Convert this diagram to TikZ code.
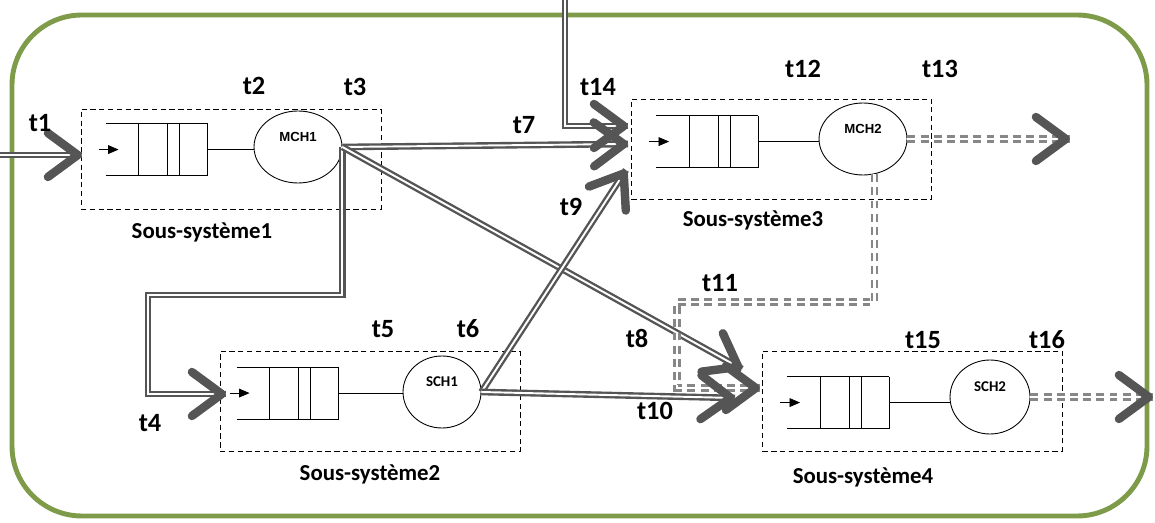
\documentclass[tikz,border=0pt]{standalone}
\usepackage{fontspec}
\setmainfont{Carlito}
\newfontfamily\arialfont{Liberation Sans}
\usetikzlibrary{positioning, calc, arrows.meta, shapes.geometric}
\definecolor{framegreen}{RGB}{125,155,72}
\definecolor{linkgray}{RGB}{85,85,85}
\definecolor{headgray}{RGB}{85,85,85}
\definecolor{dashgray}{RGB}{135,135,135}

\begin{document}
\begin{tikzpicture}[x=0.02cm, y=-0.02cm,
    sysbox/.style={draw, dash pattern=on 3pt off 2pt, line width=0.5pt, minimum width=6cm, minimum height=2cm, inner sep=0pt},
    server/.style={draw, ellipse, line width=0.5pt, inner sep=0pt, text height=5pt, text depth=11pt},
    queue/.style={line width=0.55pt},
    tlabel/.style={font=\bfseries\fontsize{15}{15}\selectfont},
    syslabel/.style={font=\bfseries\fontsize{13}{13}\selectfont},
    mtext/.style={font=\arialfont\bfseries\fontsize{7.5}{8}\selectfont},
    stext/.style={font=\bfseries\fontsize{8.5}{9}\selectfont},
    link/.style={draw=linkgray, line width=1.35pt, double=white, double distance=1.1pt},
    dlink/.style={draw=dashgray, line width=1.6pt, double=white, double distance=1.2pt, dash pattern=on 4.5pt off 3pt},
    head/.style={draw=headgray, line width=0.01pt, -{Straight Barb[length=17pt, width=25pt, line width=4.8pt, round]}}]

    \useasboundingbox (0,0) rectangle (1155,523);

    % --- Outer frame ---
    \draw[framegreen, line width=2.8pt, rounded corners=1.4cm] (12,15) rectangle (1147,516);

    % --- Sub-systems ---
    \node[sysbox] (sys1) at (231,159) {};
    \node[sysbox] (sys3) at (781.5,149) {};
    \node[sysbox] (sys2) at (370,401.5) {};
    \node[sysbox] (sys4) at (912.5,401) {};

    % --- Queues ---
    \foreach \s/\qx/\qy in {sys1/25/15, sys3/25/17, sys2/17/16, sys4/25/26} {
        \begin{scope}[shift={(\s.north west)}]
            \draw[queue] (\qx+102,\qy) -- (\qx,\qy) (\qx,\qy+52) -- (\qx+102,\qy+52) -- (\qx+102,\qy);
            \foreach \v in {33,62,74}
                \draw[queue] (\qx+\v,\qy) -- (\qx+\v,\qy+52);
            \draw[-{Triangle[length=6pt,width=5pt]}] (\qx-7,\qy+26) -- (\qx+13,\qy+26);
            \coordinate (\s-q) at (\qx+102,\qy+26);
        \end{scope}
    }

    % --- Servers ---
    \node[server, mtext, minimum width=1.76cm, minimum height=1.44cm] (mch1) at (298,147) {MCH1};
    \node[server, mtext, minimum width=1.76cm, minimum height=1.44cm] (mch2) at (863,139) {MCH2};
    \node[server, stext, minimum width=1.56cm, minimum height=1.44cm] (sch1) at (442,392) {SCH1};
    \node[server, stext, minimum width=1.6cm, minimum height=1.48cm] (sch2) at (990,397) {SCH2};

    \draw[queue] (sys1-q) -- (sys1-q -| mch1.west);
    \draw[queue] (sys3-q) -- (sys3-q -| mch2.west);
    \draw[queue] (sys2-q) -- (sys2-q -| sch1.west);
    \draw[queue] (sys4-q) -- (sys4-q -| sch2.west);

    % --- Arrow ends ---
    \coordinate (src1) at (0,155);
    \coordinate (in1) at (82,155);
    \coordinate (k4) at (148,295);
    \coordinate (in2) at (226,394);
    \coordinate (top14) at (565,0);
    \coordinate (in3a) at (628,126);
    \coordinate (in3b) at (628,144);
    \coordinate (in3c) at (626,170);
    \coordinate (in4a) at (742,369);
    \coordinate (in4b) at (760,388);
    \coordinate (in4c) at (735,398);
    \coordinate (k11) at (677,302);
    \coordinate (out3) at (1070,139);
    \coordinate (out4) at (1153,397);

    % --- Links ---
    \draw[link] (src1) -- (in1);
    \draw[link] (mch1.east) |- (k4) |- (in2);
    \draw[link] (top14) |- (in3a);
    \draw[link] (mch1.east) -- (in3b);
    \draw[link] (mch1.east) -- (in4a);
    \draw[link] (sch1.east) -- (in3c);
    \draw[link] (sch1.east) -- (in4c);
    \draw[dlink] (mch2.-72) |- (k11) |- (in4b);
    \draw[dlink] (mch2.east) -- (out3);
    \draw[dlink] (sch2.east) -- (out4);

    % --- Arrow heads ---
    \draw[head] ($(in1)+(-4,0)$) -- (in1);
    \draw[head] ($(in2)+(-4,0)$) -- (in2);
    \draw[head] ($(in3a)+(-4,0)$) -- (in3a);
    \draw[head] ($(in3b)!4pt!(mch1.east)$) -- (in3b);
    \draw[head] ($(in3c)!4pt!(sch1.east)$) -- (in3c);
    \draw[head] ($(in4a)!4pt!(mch1.east)$) -- (in4a);
    \draw[head] ($(in4b)+(-4,0)$) -- (in4b);
    \draw[head] ($(in4c)!4pt!(sch1.east)$) -- (in4c);
    \draw[head] ($(out3)+(-4,0)$) -- (out3);
    \draw[head] ($(out4)+(-4,0)$) -- (out4);

    % --- Labels ---
    \node[tlabel] (lt1) at (40,123) {t1};
    \node[tlabel] (lt2) at (254,86) {t2};
    \node[tlabel] (lt3) at (355,87) {t3};
    \node[tlabel] (lt4) at (150,423) {t4};
    \node[tlabel] (lt5) at (383,329) {t5};
    \node[tlabel] (lt6) at (468,329) {t6};
    \node[tlabel] (lt7) at (524,125) {t7};
    \node[tlabel] (lt8) at (637,338) {t8};
    \node[tlabel] (lt9) at (571,207) {t9};
    \node[tlabel] (lt10) at (655,411) {t10};
    \node[tlabel] (lt11) at (720,283) {t11};
    \node[tlabel] (lt12) at (803,69) {t12};
    \node[tlabel] (lt13) at (940,69) {t13};
    \node[tlabel] (lt14) at (598,87) {t14};
    \node[tlabel] (lt15) at (923,340) {t15};
    \node[tlabel] (lt16) at (1047,340) {t16};

    \node[syslabel] (ls1) at (202,232) {Sous-système1};
    \node[syslabel] (ls2) at (370,474) {Sous-système2};
    \node[syslabel] (ls3) at (753,220) {Sous-système3};
    \node[syslabel] (ls4) at (863,477) {Sous-système4};

\end{tikzpicture}
\end{document}
